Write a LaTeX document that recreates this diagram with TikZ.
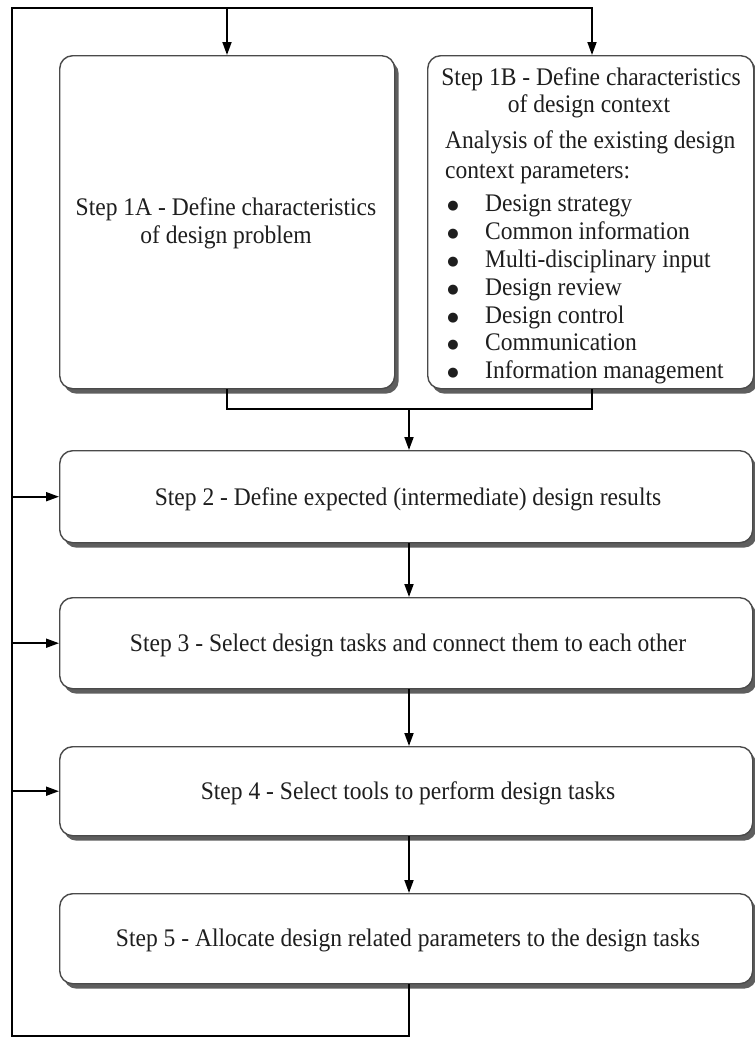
\documentclass[tikz,border=0pt]{standalone}
\usepackage{fontspec}
\setmainfont{Liberation Serif}[FakeStretch=0.93]
\newfontfamily\bulfont{DejaVu Sans}
\usetikzlibrary{arrows.meta,shadows}
\definecolor{boxline}{HTML}{4A4A4A}
\definecolor{shadowc}{HTML}{5E5E5E}
\definecolor{txt}{HTML}{1E1E1E}
\begin{document}
\begin{tikzpicture}[x=1pt,y=-1pt,
  stepbox/.style={draw=boxline, line width=1.4pt, rounded corners=13pt, fill=white,
     anchor=north west, inner sep=0pt,
     drop shadow={shadow xshift=4pt, shadow yshift=-5pt, fill=shadowc, opacity=1}},
  conn/.style={line width=1.8pt, draw=black, line join=miter},
  arr/.style={conn, -{Triangle[length=13pt,width=9pt]}},
  lbl/.style={font=\fontsize{25.3}{28}\selectfont, text=txt, inner sep=0pt},
  bul/.style={font=\bulfont\fontsize{13}{14}\selectfont, text=txt, inner sep=0pt},
]
\useasboundingbox (0,0) rectangle (755,1039);

% boxes
\node[stepbox, minimum width=335pt, minimum height=333pt] (A) at (59,55) {};
\node[stepbox, minimum width=326pt, minimum height=333pt] (B) at (427,55) {};
\node[stepbox, minimum width=693pt, minimum height=92pt] (S2) at (59,450) {};
\node[stepbox, minimum width=693pt, minimum height=91pt] (S3) at (59,597) {};
\node[stepbox, minimum width=693pt, minimum height=89pt] (S4) at (59,746) {};
\node[stepbox, minimum width=693pt, minimum height=90pt] (S5) at (59,893) {};

% texts
\node[lbl, anchor=base] (a1) at (226,215) {Step 1A - Define characteristics};
\node[lbl, anchor=base] (a2) at (226,243) {of design problem};

\node[lbl, anchor=base] (b1) at (591,85) {Step 1B - Define characteristics};
\node[lbl, anchor=base] (b2) at (589,112) {of design context};
\node[lbl, anchor=base west] (b3) at (445,148) {Analysis of the existing design};
\node[lbl, anchor=base west] (b4) at (445,178) {context parameters:};
\foreach \t [count=\i] in {Design strategy,Common information,Multi-disciplinary input,Design review,Design control,Communication,Information management}{
  \node[bul, anchor=base] (bb\i) at (453,{182+27.8*\i}) {●};
  \node[lbl, anchor=base west] (bt\i) at (485,{184+27.8*\i}) {\t};
}

\node[lbl, anchor=base] (t2) at (408,505) {Step 2 - Define expected (intermediate) design results};
\node[lbl, anchor=base] (t3) at (408,651) {Step 3 - Select design tasks and connect them to each other};
\node[lbl, anchor=base] (t4) at (408,799) {Step 4 - Select tools to perform design tasks};
\node[lbl, anchor=base] (t5) at (408,946) {Step 5 - Allocate design related parameters to the design tasks};

% coordinates
\coordinate (tl) at (12,8);
\coordinate (bl) at (12,1036);
\coordinate (tA) at (227,8);
\coordinate (tB) at (592,8);
\coordinate (mx) at (409,0);
\coordinate (mg) at (409,409);

% connectors
\draw[arr] (S5.south -| mx) -- (mx |- bl) -- (bl) -- (tl) -- (tB) -- (tB |- B.north);
\draw[arr] (tA) -- (tA |- A.north);
\draw[arr] (tl |- S2.west) -- (S2.west);
\draw[arr] (tl |- S3.west) -- (S3.west);
\draw[arr] (tl |- S4.west) -- (S4.west);
\draw[conn] (A.south -| tA) -- (tA |- mg) -- (tB |- mg) -- (B.south -| tB);
\draw[arr] (mg) -- (S2.north -| mx);
\draw[arr] (S2.south -| mx) -- (S3.north -| mx);
\draw[arr] (S3.south -| mx) -- (S4.north -| mx);
\draw[arr] (S4.south -| mx) -- (S5.north -| mx);
\end{tikzpicture}
\end{document}
